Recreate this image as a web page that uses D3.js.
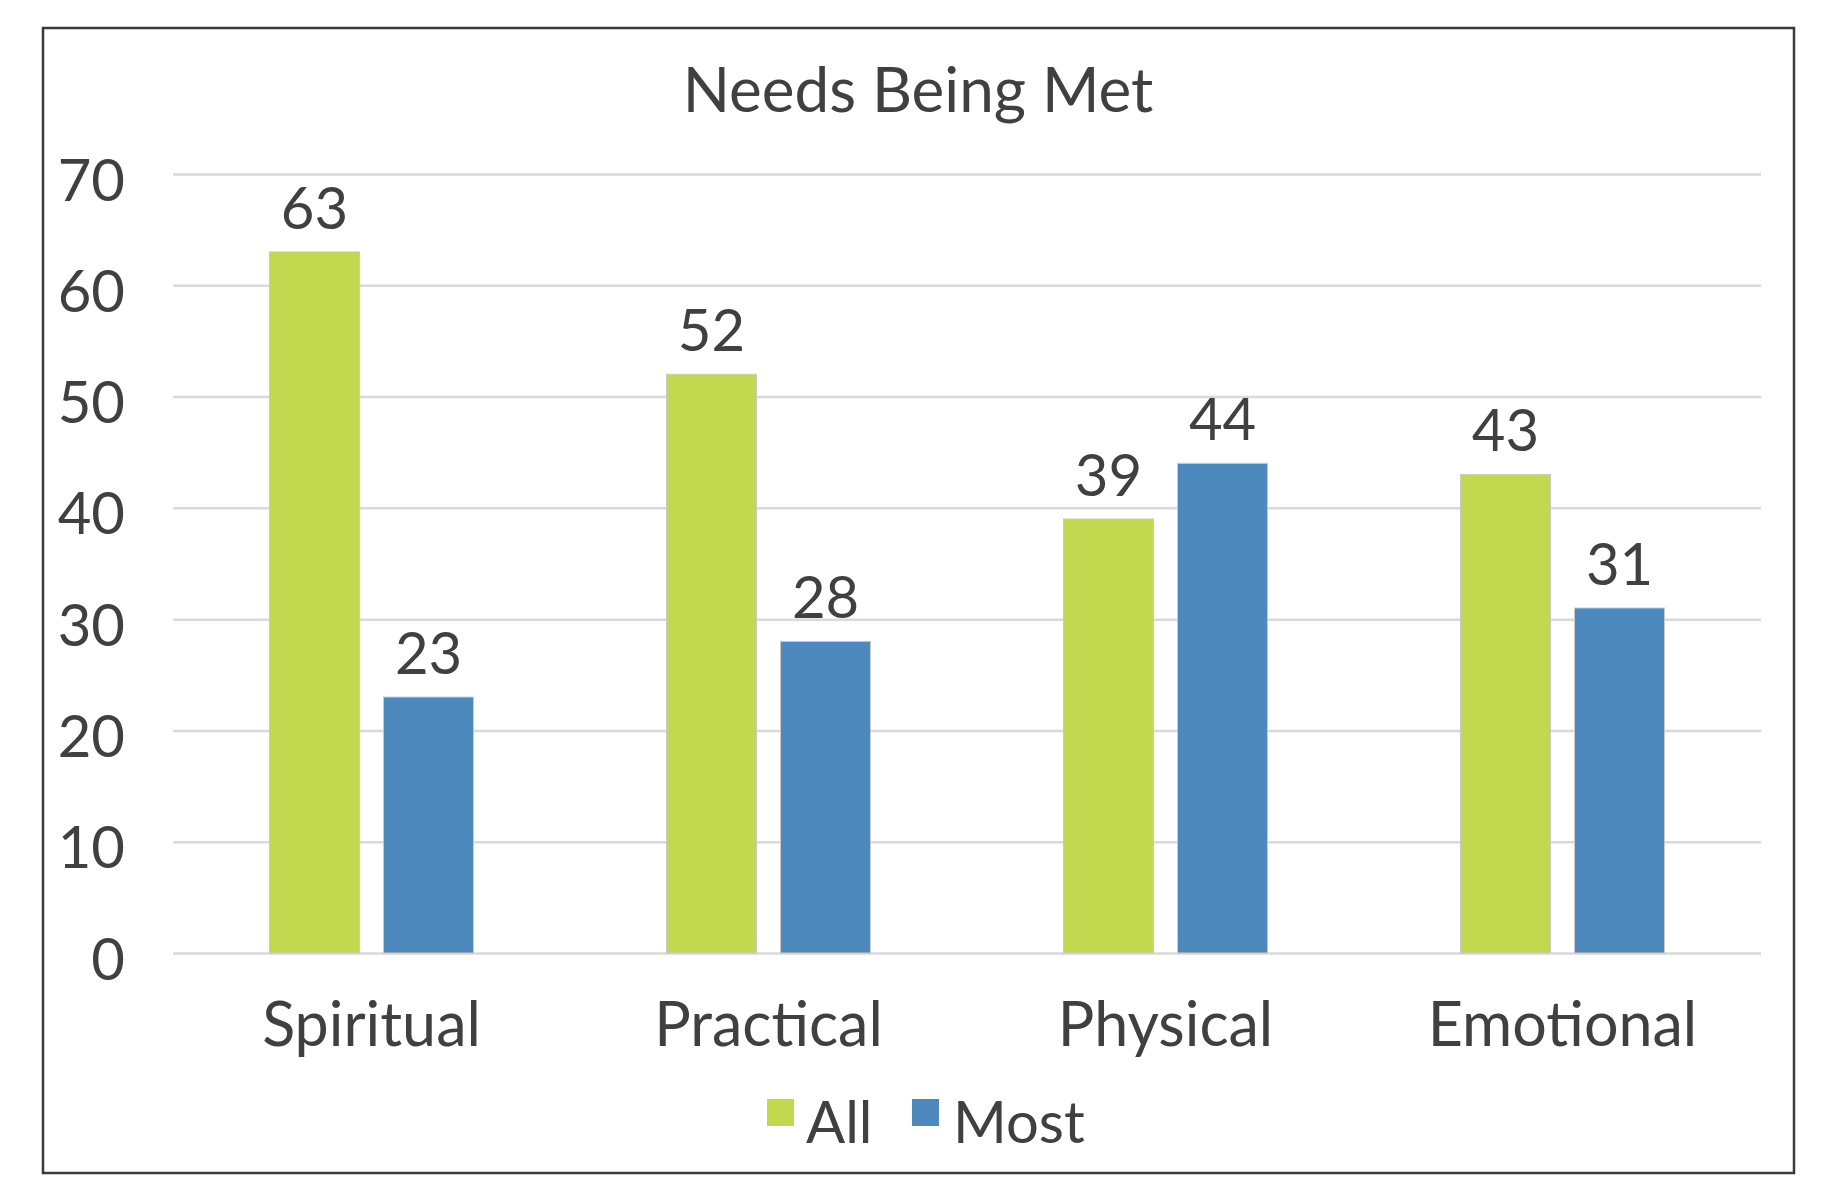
<!DOCTYPE html>
<html>
<head>
<meta charset="utf-8">
<script src="https://cdn.jsdelivr.net/npm/d3@7"></script>
<style>
  body { margin: 0; background: #fff; }
  text { font-family: Lato, "Noto Sans", sans-serif; fill: #404040; }
</style>
</head>
<body>
<div id="chart"></div>
<script>
// chart data
var categories = ["Spiritual", "Practical", "Physical", "Emotional"];
var seriesNames = ["All", "Most"];
var allValues = [63, 52, 39, 43];
var mostValues = [23, 28, 44, 31];
var yTicks = [0, 10, 20, 30, 40, 50, 60, 70];

var colors = { All: "#c2d84e", Most: "#4e89be" };

var svgWidth = 1845;
var svgHeight = 1178;

var margin = { top: 174, left: 173, right: 84, bottom: 225 };
var width = svgWidth - margin.left - margin.right;
var height = svgHeight - margin.top - margin.bottom;

var svg = d3.select("#chart")
  .append("svg")
  .attr("width", svgWidth)
  .attr("height", svgHeight);

svg.append("rect")
  .attr("width", svgWidth)
  .attr("height", svgHeight)
  .attr("fill", "#fff");

// outer frame
svg.append("rect")
  .attr("x", 43)
  .attr("y", 28)
  .attr("width", 1751)
  .attr("height", 1145)
  .attr("fill", "none")
  .attr("stroke", "#3a3a3a")
  .attr("stroke-width", 2.5);

svg.append("text")
  .attr("x", 918)
  .attr("y", 112)
  .attr("text-anchor", "middle")
  .style("font-size", "62px")
  .text("Needs Being Met");

var chartGroup = svg.append("g")
  .attr("transform", `translate(${margin.left}, ${margin.top})`);

var x0 = d3.scaleBand()
  .domain(categories)
  .range([0, width])
  .padding(0);

var x1 = d3.scaleBand()
  .domain(seriesNames)
  .range([0, x0.bandwidth()])
  .paddingInner(0.2105)
  .paddingOuter(0.846);

var y = d3.scaleLinear()
  .domain([0, 70])
  .range([height, 0]);

// y axis + gridlines
var leftAxis = d3.axisLeft(y)
  .tickValues(yTicks)
  .tickSize(-width)
  .tickPadding(48);

var yAxis = chartGroup.append("g").call(leftAxis);
yAxis.select(".domain").remove();
yAxis.selectAll("line")
  .attr("stroke", "#d9d9d9")
  .attr("stroke-width", 2.5);
yAxis.selectAll("text")
  .attr("fill", "#404040")
  .attr("dy", "0.45em")
  .style("font-size", "58px")
  .style("font-family", "Lato, 'Noto Sans', sans-serif");

// category axis
var bottomAxis = d3.axisBottom(x0).tickSize(0);
var xAxis = chartGroup.append("g")
  .attr("transform", `translate(0, ${height})`)
  .call(bottomAxis);
xAxis.select(".domain").remove();
xAxis.selectAll("text")
  .attr("y", 93)
  .attr("dy", 0)
  .attr("fill", "#404040")
  .style("font-size", "61px")
  .style("font-family", "Lato, 'Noto Sans', sans-serif");

var rows = categories.map(function(c, i) {
  return { category: c, values: [
    { key: "All", value: allValues[i] },
    { key: "Most", value: mostValues[i] }
  ] };
});

var groups = chartGroup.selectAll(".cat")
  .data(rows)
  .enter()
  .append("g")
  .attr("transform", d => `translate(${x0(d.category)}, 0)`);

groups.selectAll("rect")
  .data(d => d.values)
  .enter()
  .append("rect")
  .attr("x", d => x1(d.key))
  .attr("y", d => y(d.value))
  .attr("width", x1.bandwidth())
  .attr("height", d => height - y(d.value))
  .attr("fill", d => colors[d.key])
  .attr("stroke", "#c9c9c9")
  .attr("stroke-width", 1);

groups.selectAll(".lbl")
  .data(d => d.values)
  .enter()
  .append("text")
  .attr("x", d => x1(d.key) + x1.bandwidth() / 2)
  .attr("y", d => y(d.value) - 23)
  .attr("text-anchor", "middle")
  .style("font-size", "58px")
  .text(d => d.value);

// legend
var legendPos = [{ key: "All", sx: 767, tx: 806 }, { key: "Most", sx: 912, tx: 953 }];
var legend = svg.append("g");
legend.selectAll("rect")
  .data(legendPos)
  .enter()
  .append("rect")
  .attr("x", d => d.sx)
  .attr("y", 1099)
  .attr("width", 27)
  .attr("height", 27)
  .attr("fill", d => colors[d.key]);
legend.selectAll("text")
  .data(legendPos)
  .enter()
  .append("text")
  .attr("x", d => d.tx)
  .attr("y", 1143)
  .style("font-size", "58px")
  .text(d => d.key);
</script>
</body>
</html>
